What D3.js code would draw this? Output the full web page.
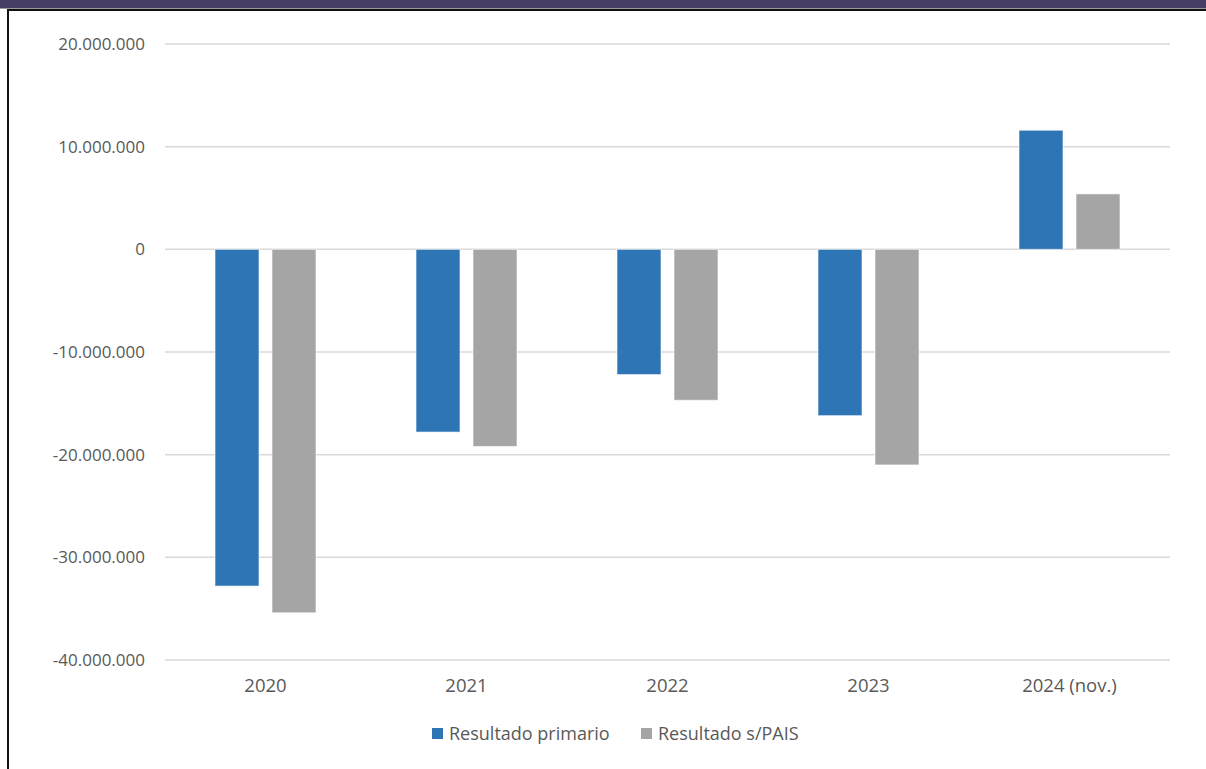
<!DOCTYPE html>
<html>
<head>
<meta charset="utf-8">
<script src="https://cdn.jsdelivr.net/npm/d3@7"></script>
<style>
  html, body { margin: 0; padding: 0; background: #fff; }
  svg { display: block; }
  text { font-family: "Open Sans", "Noto Sans", sans-serif; fill: #595959; }
</style>
</head>
<body>
<svg id="chart" width="1206" height="769"></svg>
<script>
const categories = ["2020", "2021", "2022", "2023", "2024 (nov.)"];
const seriesNames = ["Resultado primario", "Resultado s/PAIS"];
const primario = [-32800000, -17800000, -12200000, -16200000, 11600000];
const sPais = [-35400000, -19200000, -14700000, -21000000, 5400000];
const tickValues = [20000000, 10000000, 0, -10000000, -20000000, -30000000, -40000000];
const colors = ["#2E75B6", "#A5A5A5"];

const svg = d3.select("#chart");
const W = 1206, H = 769;

// frame decorations
svg.append("rect").attr("x", 0).attr("y", 0).attr("width", W).attr("height", 8).attr("fill", "#473E66");
svg.append("rect").attr("x", 0).attr("y", 8).attr("width", W).attr("height", 1).attr("fill", "#9a9a9a");
svg.append("rect").attr("x", 7).attr("y", 9).attr("width", W - 7).attr("height", 2).attr("fill", "#111");
svg.append("rect").attr("x", 7).attr("y", 9).attr("width", 2).attr("height", H - 9).attr("fill", "#111");

const left = 165, right = 1170;
const y = d3.scaleLinear().domain([-40000000, 20000000]).range([660, 44]);
const x0 = d3.scaleBand().domain(categories).range([left, right]).paddingInner(0).paddingOuter(0);
const barW = 44, gap = 13;

const fmt = v => (v < 0 ? "-" : "") + d3.format(",")(Math.abs(v)).replace(/,/g, ".");

// gridlines
svg.append("g").selectAll("line").data(tickValues).join("line")
  .attr("x1", left).attr("x2", right)
  .attr("y1", d => y(d)).attr("y2", d => y(d))
  .attr("stroke", "#d9d9d9").attr("stroke-width", 1.5);

// y axis labels
const yAxis = d3.axisLeft(y).tickValues(tickValues).tickFormat(fmt).tickSize(0).tickPadding(0);
const gy = svg.append("g").attr("transform", "translate(145,0)").call(yAxis);
gy.select(".domain").remove();
gy.selectAll("text").attr("font-size", 17).attr("fill", "#595959")
  .style("font-family", '"Open Sans", sans-serif');

// bars
const data = categories.map((c, i) => ({ c, vals: [primario[i], sPais[i]] }));
const g = svg.append("g");
data.forEach(d => {
  const cx = x0(d.c) + x0.bandwidth() / 2;
  d.vals.forEach((v, j) => {
    g.append("rect")
      .attr("x", j === 0 ? cx - gap / 2 - barW : cx + gap / 2)
      .attr("y", Math.min(y(v), y(0)))
      .attr("width", barW)
      .attr("height", Math.abs(y(v) - y(0)))
      .attr("fill", colors[j])
      .attr("stroke", "rgba(255,255,255,0.6)")
      .attr("stroke-width", 1);
  });
});

// x axis labels
const xAxis = d3.axisBottom(x0).tickSize(0).tickPadding(0);
const gx = svg.append("g").attr("transform", "translate(0,679)").call(xAxis);
gx.select(".domain").remove();
gx.selectAll("text").attr("font-size", 18.5).attr("fill", "#595959")
  .style("font-family", '"Open Sans", sans-serif');

// legend
const leg = svg.append("g");
const legItems = [{ x: 432, name: seriesNames[0], c: colors[0] }, { x: 641, name: seriesNames[1], c: colors[1] }];
legItems.forEach(it => {
  leg.append("rect").attr("x", it.x).attr("y", 728).attr("width", 11).attr("height", 11).attr("fill", it.c);
  leg.append("text").attr("x", it.x + 17).attr("y", 740).attr("font-size", 18).text(it.name);
});
</script>
</body>
</html>
